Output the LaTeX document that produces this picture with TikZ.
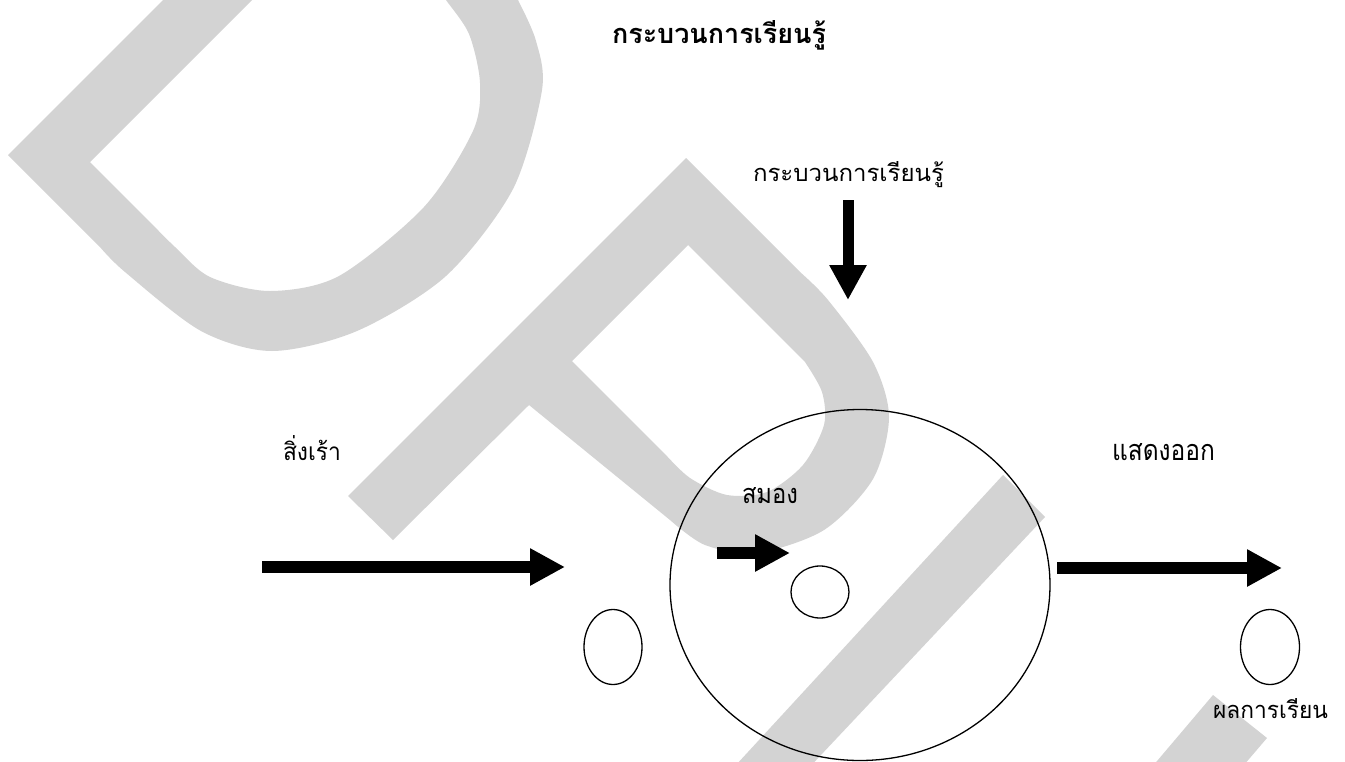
\documentclass[tikz,border=0pt]{standalone}
\usepackage{fontspec}
\usepackage{graphicx}
\newfontfamily\thaifont[Script=Thai]{Loma}
\usetikzlibrary{arrows.meta,shapes.geometric}
\definecolor{wmgray}{RGB}{211,211,211}
\tikzset{
  wm/.style={fill=wmgray, draw=none},
  blockarrow/.style={line width=12.5pt, -{Triangle[length=35pt,width=35pt]}},
  oval/.style={draw, ellipse, line width=1.3pt, inner sep=0pt, outer sep=0pt},
  lbl/.style={inner sep=0pt, outer sep=0pt, anchor=base west, font=\thaifont},
}
\newcommand{\fitbox}[3]{\resizebox{#1pt}{#2pt}{#3}}
\begin{document}
\begin{tikzpicture}[x=1pt,y=-1pt]
\fill[white] (0,0) rectangle (1345,761);
\useasboundingbox (0,0) rectangle (1345,761);
\clip (0,0) rectangle (1345,761);
% watermark D
\fill[wm] (173,-10) -- (8,155) -- plot[smooth] coordinates {(100,247) (125,272) (201,331) (272,351) (357,331) (446,276) (513,189) (542,90) (536,41) (518,0) (510,-12)}
  -- plot[smooth] coordinates {(438,-12) (446,0) (469,34) (480,83) (473,131) (424,207) (339,276) (270,291) (210,277) (175,247) (150,222)}
  -- (90,162) -- (262,-10) -- cycle;
% watermark P
\fill[wm, even odd rule] (686,158) -- plot[smooth] coordinates {(800,272) (828,300) (873,362) (889,417) (873,479) (824,530) (757,553) (705,545) (670,520)}
  -- (529,405) -- (393,540) -- (348,496) -- cycle
  (688,245) -- (572,361) -- plot[smooth] coordinates {(665,454) (690,478) (727,495) (767,492) (803,465) (824,425) (822,392) (805,362)} -- cycle;
% watermark U arms
\fill[wm] (1003,475) -- (1045,517) -- (788,790) -- (713,790) -- cycle;
\fill[wm] (1213,695) -- (1267,738) -- (1214,800) -- (1124,800) -- cycle;
% shapes
\node[oval, minimum width=380pt, minimum height=351pt] (brain) at (860,585) {};
\node[oval, minimum width=58pt, minimum height=52pt] (inner) at (820,592) {};
\node[oval, minimum width=58pt, minimum height=75pt] (inov) at (613,647) {};
\node[oval, minimum width=59pt, minimum height=75pt] (outov) at (1270,647) {};
% texts
\node[lbl] (title) at (612,43) {\fitbox{214}{23}{\bfseries กระบวนการเรียนรู้}};
\node[lbl] (proc) at (753,181) {\fitbox{191}{20}{กระบวนการเรียนรู้}};
\node[lbl] (stim) at (283,460) {\fitbox{58}{25}{สิ่งเร้า}};
\node[lbl] (brtxt) at (742,503) {\fitbox{56}{16}{สมอง}};
\node[lbl] (show) at (1112,460) {\fitbox{103}{17}{แสดงออก}};
\node[lbl] (res) at (1213,718) {\fitbox{115}{20}{ผลการเรียน}};
% arrows
\coordinate (a1s) at (262,567); \coordinate (a1e) at (565,567);
\coordinate (a2s) at (717,553); \coordinate (a2e) at (790,553);
\coordinate (a3s) at (1057,568); \coordinate (a3e) at (1282,568);
\coordinate (a4s) at (848,200); \coordinate (a4e) at (848,300);
\draw[blockarrow] (a1s) -- (a1e);
\draw[blockarrow, line width=12pt] (a2s) -- (a2e);
\draw[blockarrow, line width=12pt] (a3s) -- (a3e);
\draw[blockarrow, line width=11pt] (a4s) -- (a4e);
\end{tikzpicture}
\end{document}
